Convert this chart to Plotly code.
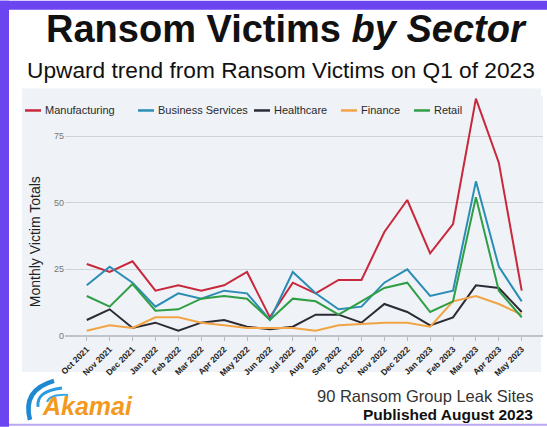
import plotly.graph_objects as go

months = ["Oct 2021", "Nov 2021", "Dec 2021", "Jan 2022", "Feb 2022", "Mar 2022",
          "Apr 2022", "May 2022", "Jun 2022", "Jul 2022", "Aug 2022", "Sep 2022",
          "Oct 2022", "Nov 2022", "Dec 2022", "Jan 2023", "Feb 2023", "Mar 2023",
          "Apr 2023", "May 2023"]

manufacturing = [27, 24, 28, 17, 19, 17, 19, 24, 7, 20, 16, 21, 21, 39, 51, 31, 42, 89, 65, 17]
business_services = [19, 26, 20, 11, 16, 14, 17, 16, 6, 24, 16, 10, 11, 20, 25, 15, 17, 58, 26, 13]
healthcare = [6, 10, 3, 5, 2, 5, 6, 3.5, 2.5, 3.5, 8, 8, 5, 12, 9, 4, 7, 19, 18, 9]
finance = [2, 4, 3, 7, 7, 5, 4, 3, 3, 3, 2, 4, 4.5, 5, 5, 3.5, 13, 15, 12, 8]
retail = [15, 11, 19.5, 9.5, 10, 14, 15, 14, 6, 14, 13, 8, 13, 18, 20, 9, 13, 52, 17, 7]

series = [
    ("Manufacturing", manufacturing, "#c8283c"),
    ("Business Services", business_services, "#2b8db5"),
    ("Healthcare", healthcare, "#2b2b36"),
    ("Finance", finance, "#f2a444"),
    ("Retail", retail, "#2f9e44"),
]
# left edge of each legend entry (pixels)
legend_x = [25, 138, 254, 341, 414]

# plot area in pixels
L, R, T, B = 65, 4, 95.5, 91
W, H = 547 - L - R, 427 - T - B


def px(x):
    return (x - L) / W


def py(y):
    return (427 - B - y) / H


fig = go.Figure()
for name, vals, col in series:
    fig.add_trace(go.Scatter(x=list(range(len(months))), y=vals, name=name, mode="lines",
                             line=dict(color=col, width=2)))

shapes = [
    # grey chart panel
    dict(type="rect", xref="paper", yref="paper", x0=px(22), x1=px(541), y0=py(372), y1=py(88),
         fillcolor="#eff2f6", line=dict(width=0), layer="below"),
    # purple frame
    dict(type="rect", xref="paper", yref="paper", x0=px(0), x1=px(547), y0=py(9), y1=py(0),
         fillcolor="#6a45f0", line=dict(width=0)),
    dict(type="rect", xref="paper", yref="paper", x0=px(0), x1=px(9), y0=py(427), y1=py(0),
         fillcolor="#6a45f0", line=dict(width=0)),
    dict(type="rect", xref="paper", yref="paper", x0=px(9), x1=px(547), y0=py(426), y1=py(424),
         fillcolor="#b9a6f0", line=dict(width=0)),
    # Akamai logo arcs
    dict(type="path", xref="paper", yref="paper",
         path=f"M {px(54)},{py(381)} Q {px(22)},{py(390)} {px(30)},{py(420)}",
         line=dict(color="#1e88d0", width=4.5)),
    dict(type="path", xref="paper", yref="paper",
         path=f"M {px(62)},{py(388)} Q {px(36)},{py(391)} {px(38)},{py(407)}",
         line=dict(color="#2a9be0", width=3)),
    dict(type="path", xref="paper", yref="paper",
         path=f"M {px(68)},{py(395)} Q {px(50)},{py(394)} {px(47)},{py(402)}",
         line=dict(color="#3aa8e8", width=2)),
]

font = "Liberation Sans, Arial"
annotations = [
    dict(text="<b>Ransom Victims <i>by Sector</i></b>", x=px(286), y=py(28),
         font=dict(family=font, size=38, color="#111111")),
    dict(text="Upward trend from Ransom Victims on Q1 of 2023", x=px(281), y=py(69),
         font=dict(family=font, size=22.7, color="#111111")),
    dict(text="Monthly Victim Totals", x=px(35), y=py(242), textangle=-90,
         font=dict(family=font, size=14, color="#222222")),
    dict(text="<b><i>Akamai</i></b>", x=px(40), y=py(406), xanchor="left",
         font=dict(family=font, size=25, color="#f39a1e")),
    dict(text="90 Ransom Group Leak Sites", x=px(535), y=py(396), xanchor="right",
         font=dict(family=font, size=16.5, color="#333333")),
    dict(text="<b>Published August 2023</b>", x=px(535), y=py(415), xanchor="right",
         font=dict(family=font, size=15.5, color="#111111")),
]

# hand-drawn legend row
for (name, vals, col), lx in zip(series, legend_x):
    shapes.append(dict(type="line", xref="paper", yref="paper", x0=px(lx), x1=px(lx + 16),
                       y0=py(110), y1=py(110), line=dict(color=col, width=2.5)))
    annotations.append(dict(text=name, x=px(lx + 18), y=py(109.5), xanchor="left",
                            font=dict(family=font, size=11, color="#2a2a2a")))

for a in annotations:
    a.update(xref="paper", yref="paper", showarrow=False, yanchor="middle")
    a.setdefault("xanchor", "center")

fig.update_layout(
    width=547, height=427,
    margin=dict(l=L, r=R, t=T, b=B, autoexpand=False),
    paper_bgcolor="white",
    plot_bgcolor="#eff2f6",
    showlegend=False,
    shapes=shapes,
    annotations=annotations,
    xaxis=dict(tickmode="array", tickvals=list(range(len(months))), ticktext=months,
               tickangle=-45, range=[-0.95, 19.93], showgrid=False, zeroline=False,
               ticks="outside", ticklen=4, tickcolor="#bbbbbb", showline=False, automargin=False,
               tickfont=dict(family=font, size=8.5, color="#222222", weight="bold")),
    yaxis=dict(range=[0, 90], tickvals=[0, 25, 50, 75], showgrid=True, gridcolor="#cfd3d8",
               gridwidth=1, zeroline=True, zerolinecolor="#bfc3c8", zerolinewidth=1.5, automargin=False,
               tickfont=dict(family=font, size=9, color="#777777"), ticks=""),
)

# the page's default body margin would push the figure 8px off the window
fig.write_html("out.html", config={"displayModeBar": False},
               post_script="document.body.style.margin='0';"
                           "document.body.style.overflow='hidden';"
                           "document.documentElement.style.overflow='hidden';")
